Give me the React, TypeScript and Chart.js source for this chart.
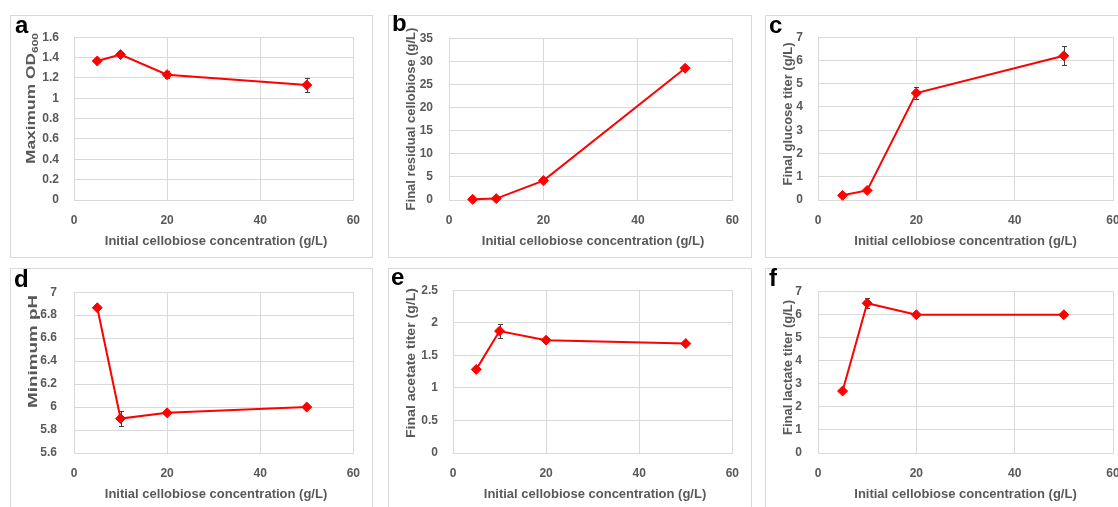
import React, { useEffect, useRef } from "react";
import { Chart, registerables } from "chart.js";

Chart.register(...registerables);

// ---------------- data ----------------
const xConcentration = [5, 10, 20, 50];
const xTickLabels = ["0", "20", "40", "60"];

const maxOD = [1.366, 1.429, 1.232, 1.13];
const maxODErr = [0.01, 0.01, 0.035, 0.07];
const maxODTicks = ["0", "0.2", "0.4", "0.6", "0.8", "1", "1.2", "1.4", "1.6"];

const residualCellobiose = [0.14, 0.3, 4.2, 28.5];
const residualCellobioseErr = [0.05, 0.1, 0.4, 0.4];
const residualCellobioseTicks = ["0", "5", "10", "15", "20", "25", "30", "35"];

const glucoseTiter = [0.2, 0.41, 4.6, 6.2];
const glucoseTiterErr = [0.03, 0.05, 0.26, 0.41];
const glucoseTiterTicks = ["0", "1", "2", "3", "4", "5", "6", "7"];

const minimumPH = [6.865, 5.9, 5.95, 6.0];
const minimumPHErr = [0.005, 0.065, 0.01, 0.005];
const minimumPHTicks = ["5.6", "5.8", "6", "6.2", "6.4", "6.6", "6.8", "7"];

const acetateTiter = [1.284, 1.872, 1.733, 1.68];
const acetateTiterErr = [0.02, 0.11, 0.03, 0.02];
const acetateTiterTicks = ["0", "0.5", "1", "1.5", "2", "2.5"];

const lactateTiter = [2.68, 6.48, 5.98, 5.98];
const lactateTiterErr = [0.05, 0.22, 0.05, 0.05];
const lactateTiterTicks = ["0", "1", "2", "3", "4", "5", "6", "7"];

const xTitle = "Initial cellobiose concentration (g/L)";

// ---------------- style / layout ----------------
const FONT = '"Liberation Sans", Arial, sans-serif';
const GRID = "#d9d9d9";
const TEXT = "#595959";
const RED = "#ff0000";

type PanelCfg = {
  letter: string;
  values: number[];
  errors: number[];
  ticks: string[];
  yMin: number;
  yMax: number;
  yStep: number;
  yTitle: string;
  yTitleSub?: string;
  box: { x: number; y: number; w: number; h: number };
  area: { l: number; r: number; t: number; b: number };
  yPad: number;
  letterPos: { x: number; y: number };
  yTitlePos: { x: number; cy: number; len?: number };
};

const panels: PanelCfg[] = [
  {
    letter: "a", values: maxOD, errors: maxODErr, ticks: maxODTicks,
    yMin: 0, yMax: 1.6, yStep: 0.2, yTitle: "Maximum OD", yTitleSub: "600",
    box: { x: 10, y: 15, w: 363, h: 243 }, area: { l: 64, r: 348, t: 14, b: 185 }, yPad: 15,
    letterPos: { x: 5, y: 17.5 }, yTitlePos: { x: 25, cy: 83.5, len: 131 },
  },
  {
    letter: "b", values: residualCellobiose, errors: residualCellobioseErr, ticks: residualCellobioseTicks,
    yMin: 0, yMax: 35, yStep: 5, yTitle: "Final residual cellobiose (g/L)",
    box: { x: 388, y: 15, w: 364, h: 243 }, area: { l: 61, r: 349, t: 14, b: 185 }, yPad: 16,
    letterPos: { x: 4, y: 15.5 }, yTitlePos: { x: 27, cy: 104 },
  },
  {
    letter: "c", values: glucoseTiter, errors: glucoseTiterErr, ticks: glucoseTiterTicks,
    yMin: 0, yMax: 7, yStep: 1, yTitle: "Final glucose titer (g/L)",
    box: { x: 765, y: 15, w: 400, h: 243 }, area: { l: 53, r: 348, t: 14, b: 185 }, yPad: 15,
    letterPos: { x: 4, y: 18 }, yTitlePos: { x: 27, cy: 99 },
  },
  {
    letter: "d", values: minimumPH, errors: minimumPHErr, ticks: minimumPHTicks,
    yMin: 5.6, yMax: 7, yStep: 0.2, yTitle: "Minimum pH",
    box: { x: 10, y: 268, w: 363, h: 260 }, area: { l: 64, r: 348, t: 15, b: 185 }, yPad: 17,
    letterPos: { x: 4, y: 18.5 }, yTitlePos: { x: 26.5, cy: 83.5, len: 113 },
  },
  {
    letter: "e", values: acetateTiter, errors: acetateTiterErr, ticks: acetateTiterTicks,
    yMin: 0, yMax: 2.5, yStep: 0.5, yTitle: "Final acetate titer (g/L)",
    box: { x: 388, y: 268, w: 364, h: 260 }, area: { l: 65, r: 349, t: 15, b: 185 }, yPad: 15,
    letterPos: { x: 3, y: 17 }, yTitlePos: { x: 27, cy: 95, len: 150 },
  },
  {
    letter: "f", values: lactateTiter, errors: lactateTiterErr, ticks: lactateTiterTicks,
    yMin: 0, yMax: 7, yStep: 1, yTitle: "Final lactate titer (g/L)",
    box: { x: 765, y: 268, w: 400, h: 260 }, area: { l: 53, r: 348, t: 15, b: 185 }, yPad: 16,
    letterPos: { x: 4, y: 17.5 }, yTitlePos: { x: 27, cy: 99.5 },
  },
];

function makeDecor(cfg: PanelCfg) {
  return {
    id: "panelDecor",
    beforeDatasetsDraw(chart: any) {
      const ctx = chart.ctx as CanvasRenderingContext2D;
      const xs = chart.scales.x;
      const ys = chart.scales.y;
      ctx.save();
      ctx.strokeStyle = "#404040";
      ctx.lineWidth = 1;
      xConcentration.forEach((xv, i) => {
        const e = cfg.errors[i];
        if (!e) return;
        const px = Math.round(xs.getPixelForValue(xv)) + 0.5;
        const top = ys.getPixelForValue(cfg.values[i] + e);
        const bot = ys.getPixelForValue(cfg.values[i] - e);
        ctx.beginPath();
        ctx.moveTo(px, top);
        ctx.lineTo(px, bot);
        ctx.moveTo(px - 2.5, Math.round(top) + 0.5);
        ctx.lineTo(px + 2.5, Math.round(top) + 0.5);
        ctx.moveTo(px - 2.5, Math.round(bot) + 0.5);
        ctx.lineTo(px + 2.5, Math.round(bot) + 0.5);
        ctx.stroke();
      });
      ctx.restore();
    },
    afterDraw(chart: any) {
      const ctx = chart.ctx as CanvasRenderingContext2D;
      const { w, h } = cfg.box;
      ctx.save();
      // panel frame
      ctx.strokeStyle = GRID;
      ctx.lineWidth = 1;
      ctx.strokeRect(0.5, 0.5, w - 1, h - 1);
      // panel letter
      ctx.fillStyle = "#000000";
      ctx.font = `bold 24px ${FONT}`;
      ctx.textAlign = "left";
      ctx.textBaseline = "alphabetic";
      ctx.fillText(cfg.letter, cfg.letterPos.x, cfg.letterPos.y);
      // x title
      ctx.fillStyle = TEXT;
      ctx.font = `bold 13px ${FONT}`;
      ctx.textAlign = "center";
      ctx.fillText(xTitle, (cfg.area.l + cfg.area.r) / 2, 230);
      // y title
      ctx.translate(cfg.yTitlePos.x, cfg.yTitlePos.cy);
      ctx.rotate(-Math.PI / 2);
      ctx.textAlign = "left";
      ctx.font = `bold 13px ${FONT}`;
      const mainW = ctx.measureText(cfg.yTitle).width;
      let subW = 0;
      if (cfg.yTitleSub) {
        ctx.font = `bold 9px ${FONT}`;
        subW = ctx.measureText(cfg.yTitleSub).width;
      }
      const natural = mainW + subW;
      const s = cfg.yTitlePos.len ? cfg.yTitlePos.len / natural : 1;
      ctx.scale(s, 1);
      ctx.font = `bold 13px ${FONT}`;
      ctx.fillText(cfg.yTitle, -natural / 2, 0);
      if (cfg.yTitleSub) {
        ctx.font = `bold 9px ${FONT}`;
        ctx.fillText(cfg.yTitleSub, -natural / 2 + mainW, 3);
      }
      ctx.restore();
    },
  };
}

function Panel({ cfg }: { cfg: PanelCfg }) {
  const ref = useRef<HTMLCanvasElement | null>(null);
  useEffect(() => {
    if (!ref.current) return;
    const { w, h } = cfg.box;
    const chart = new Chart(ref.current, {
      type: "line",
      data: {
        datasets: [
          {
            data: xConcentration.map((x, i) => ({ x, y: cfg.values[i] })),
            borderColor: RED,
            backgroundColor: RED,
            borderWidth: 2,
            pointStyle: "rectRot",
            pointRadius: 5,
            pointBackgroundColor: RED,
            pointBorderColor: RED,
            pointBorderWidth: 1,
            tension: 0,
            clip: false as any,
          },
        ],
      },
      options: {
        responsive: false,
        animation: false,
        events: [],
        layout: { padding: { left: 0, top: cfg.area.t, right: w - cfg.area.r, bottom: 0 } },
        plugins: { legend: { display: false }, tooltip: { enabled: false } },
        scales: {
          x: {
            type: "linear",
            min: 0,
            max: 60,
            ticks: {
              stepSize: 20,
              padding: 13,
              color: TEXT,
              font: { family: FONT, size: 12, weight: "bold" },
              callback: (_v: any, i: number) => xTickLabels[i] ?? "",
              maxRotation: 0,
            },
            grid: { color: GRID, drawTicks: false, lineWidth: 1 },
            border: { color: GRID, width: 1 },
            afterFit: (s: any) => {
              s.height = h - cfg.area.b;
            },
          },
          y: {
            type: "linear",
            min: cfg.yMin,
            max: cfg.yMax,
            ticks: {
              stepSize: cfg.yStep,
              padding: cfg.yPad,
              color: TEXT,
              font: { family: FONT, size: 12, weight: "bold" },
              callback: (_v: any, i: number) => cfg.ticks[i] ?? "",
            },
            grid: { color: GRID, drawTicks: false, lineWidth: 1 },
            border: { color: GRID, width: 1 },
            afterFit: (s: any) => {
              s.width = cfg.area.l;
            },
          },
        },
      } as any,
      plugins: [makeDecor(cfg)],
    });
    return () => chart.destroy();
  }, [cfg]);
  return (
    <canvas
      ref={ref}
      width={cfg.box.w}
      height={cfg.box.h}
      style={{
        position: "absolute",
        left: cfg.box.x,
        top: cfg.box.y,
        width: cfg.box.w,
        height: cfg.box.h,
      }}
    />
  );
}

export default function App() {
  return (
    <div
      style={{
        position: "fixed",
        left: 0,
        top: 0,
        width: 1118,
        height: 507,
        overflow: "hidden",
        background: "#ffffff",
      }}
    >
      {panels.map((p) => (
        <Panel key={p.letter} cfg={p} />
      ))}
    </div>
  );
}
